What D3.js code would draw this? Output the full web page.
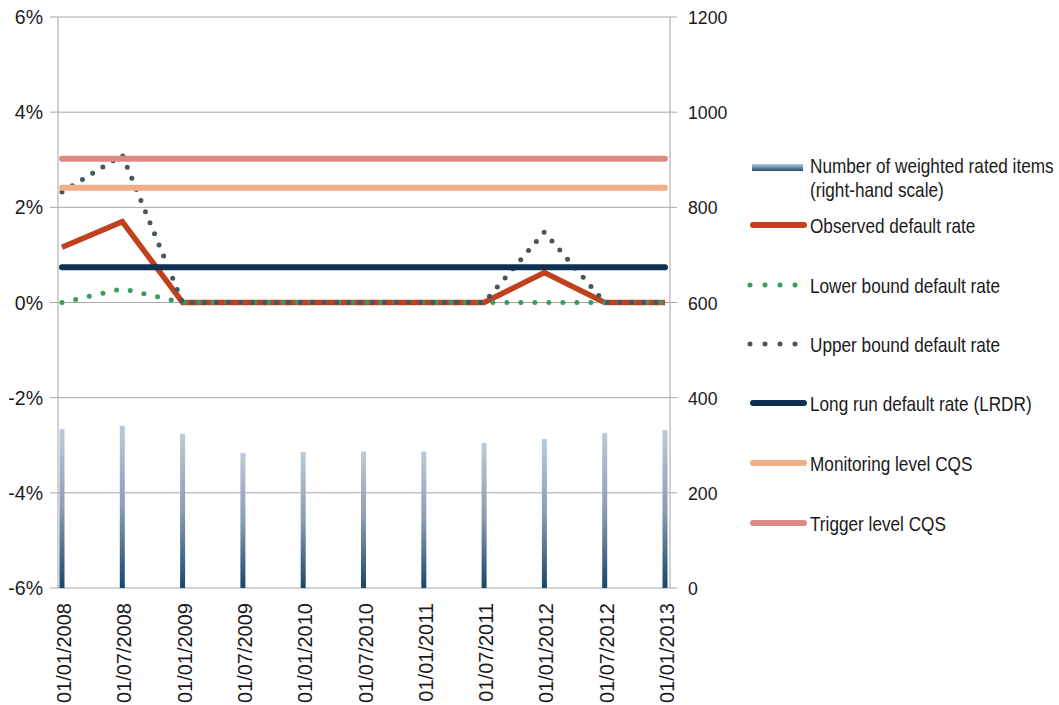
<!DOCTYPE html>
<html>
<head>
<meta charset="utf-8">
<script src="https://cdn.jsdelivr.net/npm/d3@7"></script>
<style>
  body { margin: 0; background: #fff; }
  text { font-family: "Liberation Sans", Arial, sans-serif; fill: #1a1a1a; }
</style>
</head>
<body>
<div id="myChart"></div>
<script>
// data
const dates = ["01/01/2008", "01/07/2008", "01/01/2009", "01/07/2009", "01/01/2010", "01/07/2010",
               "01/01/2011", "01/07/2011", "01/01/2012", "01/07/2012", "01/01/2013"];
const ratedItems = [334, 341, 324, 284, 286, 287, 287, 305, 313, 326, 332];
const observedRate = [1.16, 1.70, 0, 0, 0, 0, 0, 0, 0.63, 0, 0];
const lowerBound = [0, 0.29, 0, 0, 0, 0, 0, 0, 0, 0, 0];
const upperBound = [2.32, 3.10, 0, 0, 0, 0, 0, 0, 1.48, 0, 0];
const lrdr = 0.74;
const monitoringLevel = 2.41;
const triggerLevel = 3.02;
const leftTicks = [-6, -4, -2, 0, 2, 4, 6];
const rightTicks = [0, 200, 400, 600, 800, 1000, 1200];

let width = 1059, height = 705;

let svg = d3.select("#myChart")
  .append("svg")
    .attr("width", width)
    .attr("height", height);

const plot = {left: 58, right: 670, top: 17, bottom: 588};

const x = d3.scalePoint()
  .domain(dates)
  .range([62, 665]);

const yLeft = d3.scaleLinear()
  .domain([-6, 6])
  .range([plot.bottom, plot.top]);

const yRight = d3.scaleLinear()
  .domain([0, 1200])
  .range([plot.bottom, plot.top]);

// gradient for the bars
const defs = svg.append("defs");
const grad = defs.append("linearGradient")
  .attr("id", "barGrad")
  .attr("x1", 0).attr("y1", 0).attr("x2", 0).attr("y2", 1);
grad.append("stop").attr("offset", "0%").attr("stop-color", "#bccbdb");
grad.append("stop").attr("offset", "50%").attr("stop-color", "#8a9db2");
grad.append("stop").attr("offset", "100%").attr("stop-color", "#18476b");

const legGrad = defs.append("linearGradient")
  .attr("id", "legGrad")
  .attr("x1", 0).attr("y1", 0).attr("x2", 0).attr("y2", 1);
legGrad.append("stop").attr("offset", "0%").attr("stop-color", "#b9c9da");
legGrad.append("stop").attr("offset", "100%").attr("stop-color", "#1f4d72");

// gridlines (from left axis ticks)
svg.append("g")
  .selectAll("line")
  .data(leftTicks)
  .join("line")
    .attr("x1", plot.left - 8)
    .attr("x2", plot.right + 7)
    .attr("y1", d => yLeft(d))
    .attr("y2", d => yLeft(d))
    .attr("stroke", "#a6a6a6")
    .attr("stroke-width", 1);

// axis lines
svg.append("line")
  .attr("x1", plot.left).attr("x2", plot.left)
  .attr("y1", plot.top).attr("y2", plot.bottom)
  .attr("stroke", "#b3b3b3").attr("stroke-width", 1.2);
svg.append("line")
  .attr("x1", plot.right).attr("x2", plot.right)
  .attr("y1", plot.top).attr("y2", plot.bottom)
  .attr("stroke", "#b3b3b3").attr("stroke-width", 1.2);

// left tick labels
svg.append("g")
  .selectAll("text")
  .data(leftTicks)
  .join("text")
    .attr("x", 43)
    .attr("y", d => yLeft(d) + 7)
    .attr("text-anchor", "end")
    .attr("font-size", "19.5px")
    .text(d => d + "%");

// right tick labels
svg.append("g")
  .selectAll("text")
  .data(rightTicks)
  .join("text")
    .attr("transform", d => `translate(688, ${yRight(d) + 7}) scale(0.93, 1)`)
    .attr("font-size", "19px")
    .text(d => d);

// x labels, rotated
svg.append("g")
  .selectAll("text")
  .data(dates)
  .join("text")
    .attr("transform", d => `translate(${x(d) + 9}, 603) rotate(-90)`)
    .attr("text-anchor", "end")
    .attr("font-size", "20px")
    .text(d => d);

// bars (right-hand scale)
svg.append("g")
  .selectAll("rect")
  .data(ratedItems)
  .join("rect")
    .attr("x", (d, i) => x(dates[i]) - 2.5)
    .attr("y", d => yRight(d))
    .attr("width", 5)
    .attr("height", d => yRight(0) - yRight(d))
    .attr("fill", "url(#barGrad)");

const line = d3.line()
  .x((d, i) => x(dates[i]))
  .y(d => yLeft(d));

// observed default rate
svg.append("path")
  .datum(observedRate)
  .attr("d", line)
  .attr("fill", "none")
  .attr("stroke", "#c1401d")
  .attr("stroke-width", 5.5)
  .attr("stroke-linejoin", "miter");

// lower bound (dotted)
svg.append("path")
  .datum(lowerBound)
  .attr("d", line)
  .attr("fill", "none")
  .attr("stroke", "#3a9b62")
  .attr("stroke-width", 5)
  .attr("stroke-linecap", "round")
  .attr("stroke-dasharray", "0 14");

// upper bound (dotted)
svg.append("path")
  .datum(upperBound)
  .attr("d", line)
  .attr("fill", "none")
  .attr("stroke", "#46565f")
  .attr("stroke-width", 5)
  .attr("stroke-linecap", "round")
  .attr("stroke-dasharray", "0 12");

// constant levels
const levels = [
  {v: lrdr, color: "#0e3151"},
  {v: monitoringLevel, color: "#f0ae86"},
  {v: triggerLevel, color: "#dc8b83"}
];
svg.append("g")
  .selectAll("line")
  .data(levels)
  .join("line")
    .attr("x1", x(dates[0]))
    .attr("x2", x(dates[dates.length - 1]))
    .attr("y1", d => yLeft(d.v))
    .attr("y2", d => yLeft(d.v))
    .attr("stroke", d => d.color)
    .attr("stroke-width", 6)
    .attr("stroke-linecap", "round");

// legend
const legend = svg.append("g");
const lx = 752, tx = 810;
const legFont = "20px", squeeze = 0.86;

legend.append("rect")
  .attr("x", lx).attr("y", 164)
  .attr("width", 51).attr("height", 7)
  .attr("fill", "url(#legGrad)");
legend.append("text")
  .attr("transform", `translate(${tx}, 173) scale(${squeeze}, 1)`)
  .attr("font-size", legFont)
  .text("Number of weighted rated items");
legend.append("text")
  .attr("transform", `translate(${tx}, 197) scale(${squeeze}, 1)`)
  .attr("font-size", legFont)
  .text("(right-hand scale)");

const legItems = [
  {label: "Observed default rate", y: 225, color: "#c1401d", dash: null},
  {label: "Lower bound default rate", y: 285, color: "#3a9b62", dash: "0 15"},
  {label: "Upper bound default rate", y: 344, color: "#46565f", dash: "0 15"},
  {label: "Long run default rate (LRDR)", y: 403, color: "#0e3151", dash: null},
  {label: "Monitoring level CQS", y: 463, color: "#f0ae86", dash: null},
  {label: "Trigger level CQS", y: 523, color: "#dc8b83", dash: null}
];

legend.selectAll("line")
  .data(legItems)
  .join("line")
    .attr("x1", d => d.dash ? 750 : 753)
    .attr("x2", d => d.dash ? 796 : 804)
    .attr("y1", d => d.y)
    .attr("y2", d => d.y)
    .attr("stroke", d => d.color)
    .attr("stroke-width", d => d.dash ? 5 : 6)
    .attr("stroke-linecap", "round")
    .attr("stroke-dasharray", d => d.dash);

legend.selectAll("text.item")
  .data(legItems)
  .join("text")
    .attr("class", "item")
    .attr("transform", d => `translate(${tx}, ${d.y + 8}) scale(${squeeze}, 1)`)
    .attr("font-size", legFont)
    .text(d => d.label);
</script>
</body>
</html>
